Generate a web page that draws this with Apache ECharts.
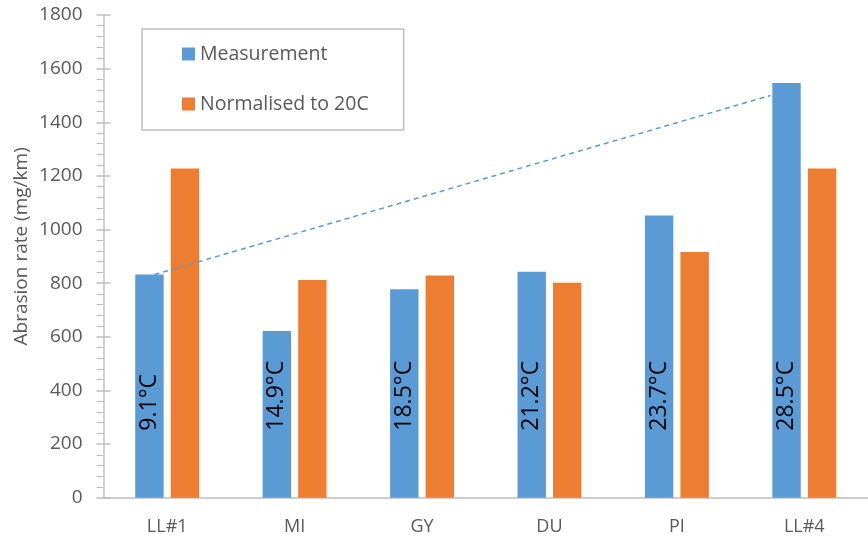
<!DOCTYPE html>
<html>
<head>
<meta charset="utf-8">
<script src="https://cdn.jsdelivr.net/npm/echarts@6/dist/echarts.min.js"></script>
<style>
  html, body { margin: 0; padding: 0; background: #fff; }
  #chart { width: 868px; height: 539px; }
</style>
</head>
<body>
<div id="chart"></div>
<script>
// Sites along the x axis
const sites = ['LL#1', 'MI', 'GY', 'DU', 'PI', 'LL#4'];
// Measured abrasion rate (mg/km)
const measurement = [832, 622, 777, 843, 1052, 1546];
// Abrasion rate normalised to 20 °C (mg/km)
const normalised = [1228, 812, 829, 802, 916, 1228];
// Air temperature during each measurement
const temperatures = ['9.1°C', '14.9°C', '18.5°C', '21.2°C', '23.7°C', '28.5°C'];
// Dashed guide line: [position along the site axis (0–6), abrasion rate]
const guideLine = [[0.40, 832], [5.235, 1500]];
// Value axis ticks
const yTicks = { min: 0, max: 1800, interval: 200 };

const FONT = "'Open Sans', 'Noto Sans', sans-serif";
const GREY_TEXT = '#595959';
const AXIS_GREY = '#bfbfbf';

const chart = echarts.init(document.getElementById('chart'), null, { renderer: 'canvas' });

chart.setOption({
  animation: false,
  textStyle: { fontFamily: FONT },
  grid: { left: 103.5, right: -9, top: 15, bottom: 41.3, containLabel: false },
  legend: {
    orient: 'vertical',
    left: 142,
    top: 29,
    data: ['Measurement', 'Normalised to 20C'],
    icon: 'rect',
    itemWidth: 13,
    itemHeight: 13,
    itemGap: 30,
    borderColor: AXIS_GREY,
    borderWidth: 1.5,
    padding: [15, 35, 16, 40],
    textStyle: { fontSize: 19.5, color: GREY_TEXT, fontFamily: FONT }
  },
  xAxis: [
    {
      type: 'category',
      data: sites,
      axisLine: { lineStyle: { color: AXIS_GREY, width: 1.5 } },
      axisTick: { show: false },
      axisLabel: { fontSize: 18, color: GREY_TEXT, margin: 20, fontFamily: FONT }
    },
    {
      type: 'value',
      min: 0,
      max: 6,
      show: false
    }
  ],
  yAxis: [
    {
      type: 'value',
      min: yTicks.min,
      max: yTicks.max,
      interval: yTicks.interval,
      name: 'Abrasion rate (mg/km)',
      nameLocation: 'middle',
      nameGap: 72,
      nameMoveOverlap: false,
      nameTextStyle: { fontSize: 19, color: GREY_TEXT, fontFamily: FONT, padding: [0, 0, 0, 20] },
      axisLine: { show: true, lineStyle: { color: AXIS_GREY, width: 1.5 } },
      axisTick: { show: true, length: 7, lineStyle: { color: AXIS_GREY, width: 1.5 } },
      minorTick: { show: true, splitNumber: 5, length: 7, lineStyle: { color: AXIS_GREY, width: 1.2 } },
      splitLine: { show: false },
      axisLabel: {
        fontSize: 19,
        color: GREY_TEXT,
        margin: 21,
        fontFamily: FONT,
        formatter: (v) => String(v)
      }
    },
    {
      // inner half of the major ticks, so they cross the axis line
      type: 'value',
      position: 'left',
      min: yTicks.min,
      max: yTicks.max,
      interval: yTicks.interval,
      axisLine: { show: false },
      axisTick: { show: true, inside: true, length: 7, lineStyle: { color: AXIS_GREY, width: 1.5 } },
      axisLabel: { show: false },
      splitLine: { show: false }
    }
  ],
  series: [
    {
      name: 'Measurement',
      type: 'bar',
      data: measurement,
      barWidth: '22.3%',
      barGap: '25%',
      itemStyle: { color: '#5B9BD5' },
      label: {
        show: true,
        position: 'insideBottom',
        distance: 67,
        rotate: 90,
        align: 'left',
        verticalAlign: 'middle',
        fontSize: 23,
        color: '#000',
        fontFamily: FONT,
        formatter: (p) => temperatures[p.dataIndex]
      }
    },
    {
      name: 'Normalised to 20C',
      type: 'bar',
      data: normalised,
      barWidth: '22.3%',
      barGap: '25%',
      itemStyle: { color: '#ED7D31' }
    },
    {
      name: 'guide',
      type: 'line',
      xAxisIndex: 1,
      data: guideLine,
      symbol: 'none',
      lineStyle: { color: '#5B9BD5', width: 1.5, type: [5, 4] },
      z: 5
    }
  ]
});
</script>
</body>
</html>
